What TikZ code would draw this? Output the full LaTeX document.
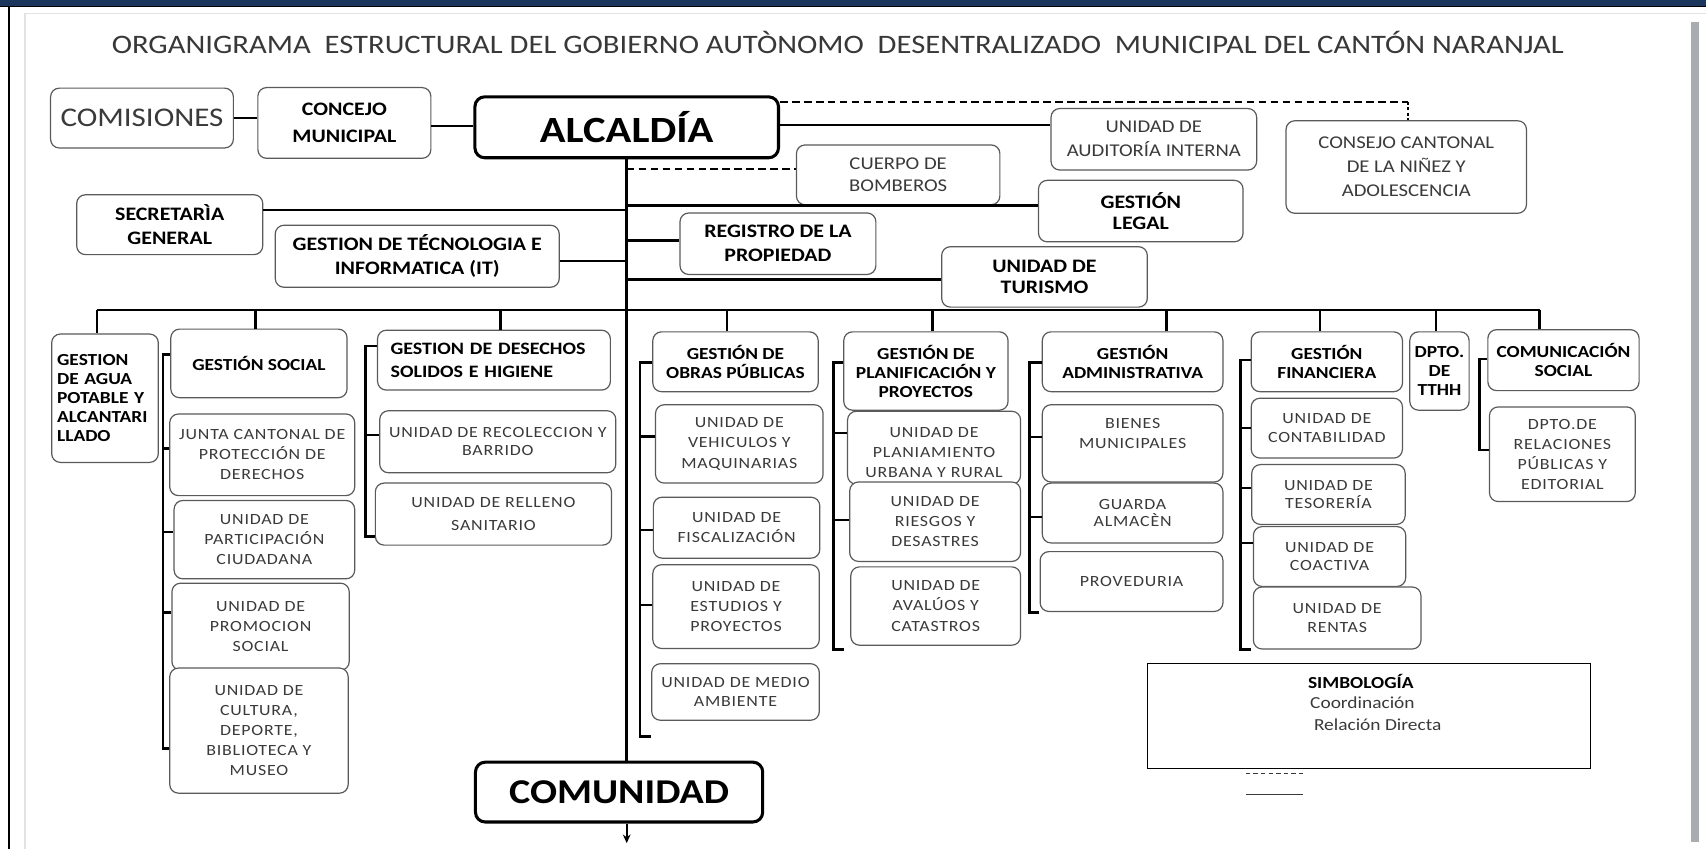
\documentclass[tikz,border=0pt]{standalone}
\usepackage{fontspec}
\setmainfont{Carlito}
\newfontfamily\fA{Carlito}[FakeStretch=1.15]
\newfontfamily\fS{Carlito}[FakeStretch=1.15,LetterSpace=5]
\usetikzlibrary{arrows.meta}
\definecolor{navy}{HTML}{1B365D}
\definecolor{boxgray}{HTML}{5A5A5A}
\definecolor{subgray}{HTML}{3A3A3A}
\definecolor{titlegray}{HTML}{383838}
\definecolor{bargray}{HTML}{A9ACB0}
\definecolor{pagegray}{HTML}{E2E2E2}
\tikzset{
  bx/.style={draw=boxgray, line width=1.1pt, rounded corners=8pt, fill=white, inner sep=2pt, align=center},
  topb/.style={bx, text=black, font=\fA\bfseries\fontsize{17.5}{22}\selectfont},
  topr/.style={bx, text=subgray, font=\fA\fontsize{16.5}{22}\selectfont},
  hdr/.style={bx, text=black, font=\fA\bfseries\fontsize{15.5}{17.5}\selectfont},
  sub/.style={bx, text=subgray, font=\fS\fontsize{14.3}{18.5}\selectfont},
  subtext/.style={text=subgray, font=\fS\fontsize{14.3}{18}\selectfont, align=center, inner sep=0pt},
  big/.style={draw=black, line width=2.8pt, rounded corners=9pt, fill=white, text=black},
  conn/.style={line width=2.3pt, black},
  dsh/.style={line width=1.5pt, black, dash pattern=on 7pt off 4pt},
  sz/.style 2 args={minimum width=#1pt, minimum height=#2pt},
}
\begin{document}
\begin{tikzpicture}[x=1pt,y=-1pt]
\useasboundingbox (0,0) rectangle (1568,780);
% frame
\fill[white] (0,0) rectangle (1568,780);
\fill[navy] (0,0) rectangle (1568,5.2);
\fill[black] (0,5.2) rectangle (1568,6.8);
\fill[black] (7.4,6.8) rectangle (9.4,780);
\draw[pagegray, line width=1pt] (23,780) -- (23,12) -- (1568,12);
\fill[bargray] (1554,20) rectangle (1561.5,774);

% title
\node[font=\fA\fontsize{24.5}{28}\selectfont, text=titlegray, inner sep=0pt] (title) at (770,39)
  {ORGANIGRAMA\ \ ESTRUCTURAL\ DEL\ GOBIERNO\ AUTÒNOMO\ \ DESENTRALIZADO\ \ MUNICIPAL\ DEL\ CANTÓN\ NARANJAL};

% top nodes
\node[bx, sz={168}{55}, text=subgray, font=\fA\fontsize{24.8}{28}\selectfont] (com) at (130.5,108.5) {COMISIONES};
\node[topb, sz={159}{65}, font=\fA\bfseries\fontsize{17.5}{24.5}\selectfont] (con) at (316.5,113) {CONCEJO\\MUNICIPAL};
\node[big, sz={279}{56}, font=\fA\bfseries\fontsize{34}{40}\selectfont] (alc) at (576,117) {ALCALDÍA};
\node[topr, sz={189}{56.5}] (aud) at (1060.5,128) {UNIDAD DE\\AUDITORÍA INTERNA};
\node[topr, sz={221}{85}] (cons) at (1292.5,153.5) {CONSEJO CANTONAL\\DE LA NIÑEZ Y\\ADOLESCENCIA};
\node[topr, sz={187}{55}, font=\fA\fontsize{16.5}{20}\selectfont] (bomb) at (825.5,160.7) {CUERPO DE\\BOMBEROS};
\node[topb, sz={188}{56.5}, font=\fA\bfseries\fontsize{17.5}{20}\selectfont] (legal) at (1048.5,194) {GESTIÓN\\LEGAL};
\node[topb, sz={171}{55}] (sec) at (156,206.5) {SECRETARÌA\\GENERAL};
\node[topb, sz={261}{57}] (tec) at (383.5,235.5) {GESTION DE TÉCNOLOGIA E\\INFORMATICA (IT)};
\node[topb, sz={180}{56.5}] (reg) at (715,224) {REGISTRO DE LA\\PROPIEDAD};
\node[topb, sz={189}{55.5}, font=\fA\bfseries\fontsize{17.5}{19.5}\selectfont] (tur) at (960,254.5) {UNIDAD DE\\TURISMO};
\node[big, sz={264}{55}, font=\fA\bfseries\fontsize{32}{38}\selectfont] (comu) at (569,728) {COMUNIDAD};

% row headers
\node[hdr, sz={98}{118}, align=left, text width=88pt, inner sep=4pt] (agua) at (96.5,366) {GESTION\\DE AGUA\\POTABLE Y\\ALCANTARI\\LLADO\\};
\node[hdr, sz={162}{63}] (social) at (238,334) {GESTIÓN SOCIAL};
\node[hdr, sz={214}{55}, align=left, text width=190pt, inner sep=4pt, font=\fA\bfseries\fontsize{16}{21.5}\selectfont] (desechos) at (454,331) {GESTION DE DESECHOS\\SOLIDOS E HIGIENE};
\node[hdr, sz={152}{55}] (obras) at (676,332.5) {GESTIÓN DE\\OBRAS PÚBLICAS};
\node[hdr, sz={151}{72}] (plan) at (851,341) {GESTIÓN DE\\PLANIFICACIÓN Y\\PROYECTOS};
\node[hdr, sz={166}{55}] (admin) at (1041,332.5) {GESTIÓN\\ADMINISTRATIVA};
\node[hdr, sz={139}{55}] (fin) at (1219.5,332.5) {GESTIÓN\\FINANCIERA};
\node[hdr, sz={54.5}{72}, inner sep=1pt] (tthh) at (1323,341) {DPTO.\\DE\\TTHH};
\node[hdr, sz={139}{56}] (comsoc) at (1437,331) {COMUNICACIÓN\\SOCIAL};

% social column
\node[sub, sz={170}{75}] (junta) at (241,418) {JUNTA CANTONAL DE\\PROTECCIÓN DE\\DERECHOS};
\node[sub, sz={166}{72}] (partic) at (243,496) {UNIDAD DE\\PARTICIPACIÓN\\CIUDADANA};
\node[sub, sz={163}{80}] (promo) at (239.5,576) {UNIDAD DE\\PROMOCION\\SOCIAL};
\node[sub, sz={164}{115}] (cultura) at (238,671.5) {UNIDAD DE\\CULTURA,\\DEPORTE,\\BIBLIOTECA Y\\MUSEO};
% desechos column
\node[sub, sz={217}{57}, font=\fS\fontsize{14.3}{17}\selectfont] (recol) at (457.5,406) {UNIDAD DE RECOLECCION Y\\BARRIDO};
\node[sub, sz={217}{57}, font=\fS\fontsize{14.3}{21.5}\selectfont] (relleno) at (453.5,472.5) {UNIDAD DE RELLENO\\SANITARIO};
% obras column
\node[sub, sz={154}{72}] (vehic) at (679.5,408) {UNIDAD DE\\VEHICULOS Y\\MAQUINARIAS};
\node[sub, sz={153}{56}] (fisc) at (677,485) {UNIDAD DE\\FISCALIZACIÓN};
\node[sub, sz={153}{77}] (estud) at (676.5,557.5) {UNIDAD DE\\ESTUDIOS Y\\PROYECTOS};
\node[sub, sz={154}{52}, font=\fS\fontsize{14.3}{17}\selectfont] (medio) at (676,636) {UNIDAD DE MEDIO\\AMBIENTE};
% planificacion column
\node[bx, sz={159}{67}] (planiam) at (858.5,411.5) {};
\begin{scope}
\clip (779,378) rectangle (938,437.5);
\node[subtext] (planiamtxt) at (858.5,416) {UNIDAD DE\\PLANIAMIENTO\\URBANA Y RURAL};
\end{scope}
\node[sub, sz={157}{73}] (riesgos) at (859.5,479.5) {UNIDAD DE\\RIESGOS Y\\DESASTRES};
\node[sub, sz={156}{72}] (avaluos) at (860,557) {UNIDAD DE\\AVALÚOS Y\\CATASTROS};
% administrativa column
\node[sub, sz={166}{71}] (bienes) at (1041,407.5) {BIENES\\MUNICIPALES\\[-1pt]};
\node[sub, sz={166}{55}, font=\fS\fontsize{14.3}{16.5}\selectfont] (guarda) at (1041,471.5) {GUARDA\\ALMACÈN};
\node[sub, sz={168}{55}] (proved) at (1040,534.5) {PROVEDURIA};
% financiera column
\node[sub, sz={139}{55}, font=\fS\fontsize{14.3}{17}\selectfont] (contab) at (1219.5,393.5) {UNIDAD DE\\CONTABILIDAD};
\node[sub, sz={141}{55}, font=\fS\fontsize{14.3}{17}\selectfont] (tesor) at (1221,454.5) {UNIDAD DE\\TESORERÍA};
\node[sub, sz={140}{55}, font=\fS\fontsize{14.3}{17}\selectfont] (coact) at (1222,511.5) {UNIDAD DE\\COACTIVA};
\node[sub, sz={154}{57}, font=\fS\fontsize{14.3}{17}\selectfont] (rentas) at (1229,568) {UNIDAD DE\\RENTAS};
% comunicacion column
\node[sub, sz={134}{87}] (relac) at (1436,417.5) {DPTO.DE\\RELACIONES\\PÚBLICAS Y\\EDITORIAL};

% legend
\node[draw=black, line width=1.1pt, sz={407}{96.5}] (leg) at (1258.5,658) {};
\node[anchor=west, inner sep=0pt, font=\fA\bfseries\fontsize{15.5}{18}\selectfont] (legA) at (1202,626.5) {SIMBOLOGÍA};
\node[anchor=west, inner sep=0pt, font=\fA\fontsize{15.5}{18}\selectfont, text=subgray] (legB) at (1204,646) {Coordinación};
\node[anchor=west, inner sep=0pt, font=\fA\fontsize{15.5}{18}\selectfont, text=subgray] (legC) at (1207.5,666.4) {Relación Directa};
\coordinate (ldA) at (1145,711);
\coordinate (ldB) at (1198,711);
\coordinate (lsA) at (1145,730);
\coordinate (lsB) at (1198,730);
\draw[line width=1.3pt, dash pattern=on 4pt off 3pt, subgray] (ldA) -- (ldB);
\draw[line width=1.3pt, subgray] (lsA) -- (lsB);

% top connectors
\draw[conn] (com.east) -- (com.east -| con.west);
\draw[conn] (con.east |- 0,116) -- (alc.west |- 0,116);
\draw[conn] (alc.east |- 0,115) -- (aud.west |- 0,115);
\coordinate (dk) at (1294,93.5);
\draw[dsh] (alc.east |- dk) -- (dk);
\draw[line width=1.2pt, black, dash pattern=on 3pt off 2pt] (dk) -- (dk |- cons.north);
\draw[conn] (alc.south) -- (alc.south |- comu.north);
\coordinate (tip) at (576,775);
\draw[line width=1.8pt, -{Stealth[length=8pt,width=7pt]}] (alc.south |- comu.south) -- (tip);
\draw[dsh] (alc.south |- 0,155.6) -- (bomb.west |- 0,155.6);
\draw[conn] (alc.south |- 0,189) -- (legal.west |- 0,189);
\draw[conn] (sec.east |- 0,193) -- (alc.south |- 0,193);
\draw[conn] (tec.east |- 0,240) -- (alc.south |- 0,240);
\draw[conn] (alc.south |- 0,221) -- (reg.west |- 0,221);
\draw[conn] (alc.south |- 0,257) -- (tur.west |- 0,257);

% bus
\coordinate (t1) at (89,285);
\coordinate (t2) at (235,285);
\coordinate (t3) at (460,285);
\coordinate (t4) at (668,285);
\coordinate (t5) at (857,285);
\coordinate (t6) at (1072,285);
\coordinate (t7) at (1213,285);
\coordinate (t8) at (1320,285);
\coordinate (t9) at (1415,285);
\draw[conn] (t1) -- (t9);
\draw[conn] (t1) -- (t1 |- agua.north);
\draw[conn] (t2) -- (t2 |- social.north);
\draw[conn] (t3) -- (t3 |- desechos.north);
\draw[conn] (t4) -- (t4 |- obras.north);
\draw[conn] (t5) -- (t5 |- plan.north);
\draw[conn] (t6) -- (t6 |- admin.north);
\draw[conn] (t7) -- (t7 |- fin.north);
\draw[conn] (t8) -- (t8 |- tthh.north);
\draw[conn] (t9) -- (t9 |- comsoc.north);

% brackets
\draw[conn] (social.west |- 0,326) -- (150,326) -- (150,688) -- (cultura.west |- 0,688);
\draw[conn] (150,412) -- (junta.west |- 0,412);
\draw[conn] (150,489) -- (partic.west |- 0,489);
\draw[conn] (150,563) -- (promo.west |- 0,563);

\draw[conn] (desechos.west |- 0,318) -- (336,318) -- (336,493) -- (relleno.west |- 0,493);
\draw[conn] (336,400) -- (recol.west |- 0,400);

\coordinate (obEnd) at (598,677);
\draw[conn] (obras.west |- 0,333) -- (588,333) -- (588,677) -- (obEnd);
\draw[conn] (588,401) -- (vehic.west |- 0,401);
\draw[conn] (588,487) -- (fisc.west |- 0,487);
\draw[conn] (588,556) -- (estud.west |- 0,556);

\coordinate (plEnd) at (776,597);
\draw[conn] (plan.west |- 0,333) -- (766,333) -- (766,597) -- (plEnd);
\draw[conn] (766,398) -- (planiam.west |- 0,398);
\draw[conn] (766,478) -- (riesgos.west |- 0,478);

\coordinate (adEnd) at (955,563);
\draw[conn] (admin.west |- 0,333) -- (946,333) -- (946,563) -- (adEnd);
\draw[conn] (946,401.5) -- (bienes.west |- 0,401.5);
\draw[conn] (946,475) -- (guarda.west |- 0,475);

\coordinate (fiEnd) at (1150,597);
\draw[conn] (fin.west |- 0,331) -- (1140,331) -- (1140,597) -- (fiEnd);
\draw[conn] (1140,393.5) -- (contab.west |- 0,393.5);
\draw[conn] (1140,448.6) -- (tesor.west |- 0,448.6);
\draw[conn] (1140,499) -- (coact.west |- 0,499);

\draw[conn] (comsoc.west |- 0,330) -- (1360,330) -- (1360,413.6) -- (relac.west |- 0,413.6);
\end{tikzpicture}
\end{document}
